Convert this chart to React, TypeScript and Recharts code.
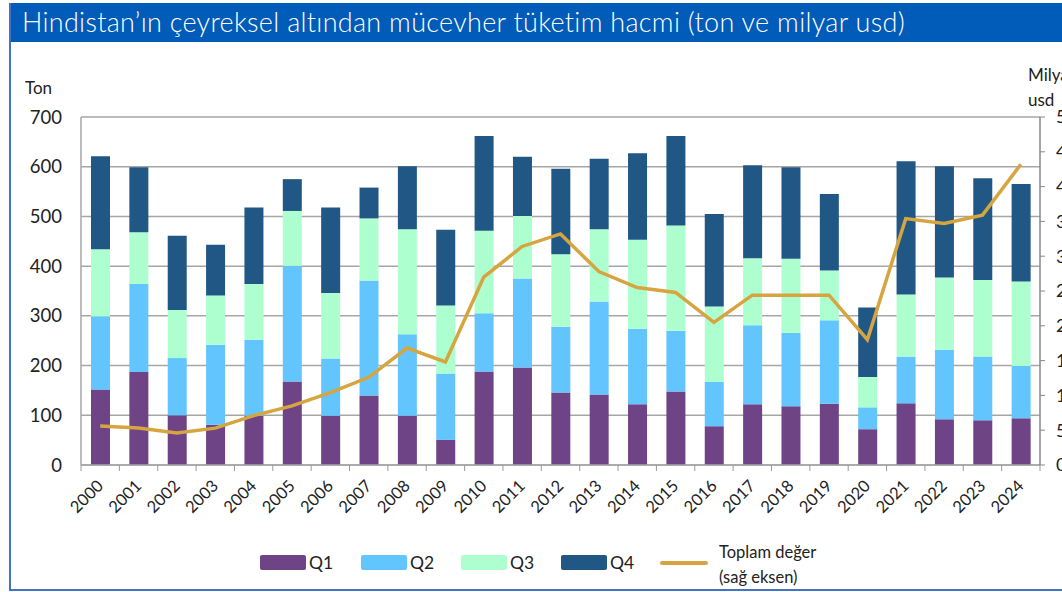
import { Bar, CartesianGrid, ComposedChart, Line, XAxis, YAxis } from "recharts";

const years = [
  "2000", "2001", "2002", "2003", "2004", "2005", "2006", "2007", "2008", "2009", "2010", "2011", "2012",
  "2013", "2014", "2015", "2016", "2017", "2018", "2019", "2020", "2021", "2022", "2023", "2024",
];
// tonnes per quarter
const q1 = [152, 187, 100, 81, 99, 168, 99, 140, 99, 51, 188, 196, 146, 142, 122, 148, 78, 122, 118, 123, 72, 124, 92, 90, 94];
const q2 = [147, 177, 115, 161, 153, 233, 115, 231, 164, 133, 117, 179, 132, 187, 152, 122, 89, 159, 148, 168, 44, 94, 140, 128, 105];
const q3 = [135, 104, 97, 99, 112, 110, 132, 125, 211, 137, 166, 126, 146, 145, 179, 212, 152, 135, 149, 100, 61, 125, 145, 154, 170];
const q4 = [187, 131, 149, 102, 154, 64, 172, 62, 127, 152, 191, 119, 172, 142, 174, 180, 186, 187, 184, 154, 140, 268, 224, 205, 196];
// billion usd, right axis
const totalValue = [5.6, 5.3, 4.6, 5.3, 7.1, 8.5, 10.4, 12.6, 16.8, 14.8, 27.0, 31.4, 33.2, 27.8, 25.5, 24.8, 20.5, 24.4, 24.4, 24.4, 18.0, 35.4, 34.7, 35.9, 43.2];

const leftTicks = [0, 100, 200, 300, 400, 500, 600, 700];
const rightTicks = [0, 5, 10, 15, 20, 25, 30, 35, 40, 45, 50];

const COLORS = { q1: "#6E4487", q2: "#63C5FE", q3: "#ADFFD0", q4: "#215785", total: "#D6A53F" };
const FONT = "Lato, 'Open Sans', sans-serif";

const data = years.map((year, i) => ({
  year,
  q1: q1[i],
  q2: q2[i],
  q3: q3[i],
  q4: q4[i],
  total: totalValue[i],
}));

const BAND = (1040 - 81) / years.length;

// category ticks sit on the band edges in the original, labels rotated 45deg
function YearTick(props: any) {
  const { x, y, payload, index } = props;
  const isLast = index === years.length - 1;
  return (
    <g>
      <line x1={x - BAND / 2} x2={x - BAND / 2} y1={y - 8} y2={y - 2} stroke="#999" />
      {isLast && <line x1={x + BAND / 2} x2={x + BAND / 2} y1={y - 8} y2={y - 2} stroke="#999" />}
      <text
        x={x + 4}
        y={y + 14}
        textAnchor="end"
        transform={`rotate(-45, ${x + 4}, ${y + 14})`}
        fontSize={16.5}
        fill="#222"
        fontFamily={FONT}
      >
        {payload.value}
      </text>
    </g>
  );
}

const legendItems = [
  { label: "Q1", color: COLORS.q1, left: 260 },
  { label: "Q2", color: COLORS.q2, left: 361 },
  { label: "Q3", color: COLORS.q3, left: 461 },
  { label: "Q4", color: COLORS.q4, left: 561 },
];

export default function App() {
  return (
    <div style={{ position: "relative", width: 1062, height: 592, overflow: "hidden", background: "#fff", fontFamily: FONT }}>
      <style>{"body{margin:0}"}</style>
      {/* title bar and frame */}
      <div style={{ position: "absolute", left: 10, top: 3, width: 1052, height: 39, background: "#005BB9" }} />
      <div
        style={{
          position: "absolute",
          left: 22,
          top: 4,
          color: "#fff",
          fontSize: 27,
          fontWeight: 300,
          lineHeight: "36px",
          whiteSpace: "nowrap",
          letterSpacing: 0.3,
        }}
      >
        Hindistan’ın çeyreksel altından mücevher tüketim hacmi (ton ve milyar usd)
      </div>
      <div style={{ position: "absolute", left: 9, top: 3, width: 2, height: 588, background: "#4472C4" }} />
      <div style={{ position: "absolute", left: 9, top: 589, width: 1053, height: 2, background: "#4472C4" }} />

      <div style={{ position: "absolute", left: 25, top: 77, fontSize: 17, color: "#222" }}>Ton</div>
      <div style={{ position: "absolute", left: 1028, top: 62, fontSize: 17, color: "#222", lineHeight: "25px" }}>
        Milyar
        <br />
        usd
      </div>

      <div style={{ position: "absolute", left: 0, top: 0 }}>
        <ComposedChart width={1100} height={592} data={data} margin={{ top: 117, right: 38, bottom: 0, left: 0 }} barCategoryGap={0}>
          <CartesianGrid yAxisId="left" vertical={false} stroke="#A6A6A6" strokeWidth={1.5} />
          <XAxis
            dataKey="year"
            height={127}
            axisLine={{ stroke: "#A6A6A6", strokeWidth: 1.5 }}
            tickLine={false}
            tick={<YearTick />}
            interval={0}
          />
          <YAxis
            yAxisId="left"
            domain={[0, 700]}
            ticks={leftTicks}
            width={81}
            tickSize={0}
            tickMargin={19}
            axisLine={{ stroke: "#A6A6A6", strokeWidth: 1.5 }}
            tickLine={false}
            tick={{ fontSize: 18.5, fill: "#222", fontFamily: FONT }}
          />
          <YAxis
            yAxisId="right"
            orientation="right"
            domain={[0, 50]}
            ticks={rightTicks}
            width={22}
            tickSize={5}
            tickMargin={11}
            axisLine={{ stroke: "#888", strokeWidth: 1.5 }}
            tickLine={{ stroke: "#888" }}
            tick={{ fontSize: 18, fill: "#222", textAnchor: "start", fontFamily: FONT }}
          />
          <Bar yAxisId="left" dataKey="q1" stackId="t" fill={COLORS.q1} barSize={19} isAnimationActive={false} />
          <Bar yAxisId="left" dataKey="q2" stackId="t" fill={COLORS.q2} barSize={19} isAnimationActive={false} />
          <Bar yAxisId="left" dataKey="q3" stackId="t" fill={COLORS.q3} barSize={19} isAnimationActive={false} />
          <Bar yAxisId="left" dataKey="q4" stackId="t" fill={COLORS.q4} barSize={19} isAnimationActive={false} />
          <Line
            yAxisId="right"
            dataKey="total"
            stroke={COLORS.total}
            strokeWidth={3.5}
            dot={false}
            isAnimationActive={false}
          />
        </ComposedChart>
      </div>

      {/* legend */}
      {legendItems.map((it) => (
        <div key={it.label} style={{ position: "absolute", left: it.left, top: 552, display: "flex", alignItems: "center" }}>
          <div style={{ width: 46, height: 15, background: it.color, borderRadius: 2 }} />
          <span style={{ fontSize: 17.5, color: "#222", marginLeft: 3 }}>{it.label}</span>
        </div>
      ))}
      <div style={{ position: "absolute", left: 660, top: 561, width: 48, height: 4, background: COLORS.total, borderRadius: 2 }} />
      <div style={{ position: "absolute", left: 719, top: 540, fontSize: 16.5, color: "#222", lineHeight: "25px" }}>
        Toplam değer
        <br />
        (sağ eksen)
      </div>
    </div>
  );
}
